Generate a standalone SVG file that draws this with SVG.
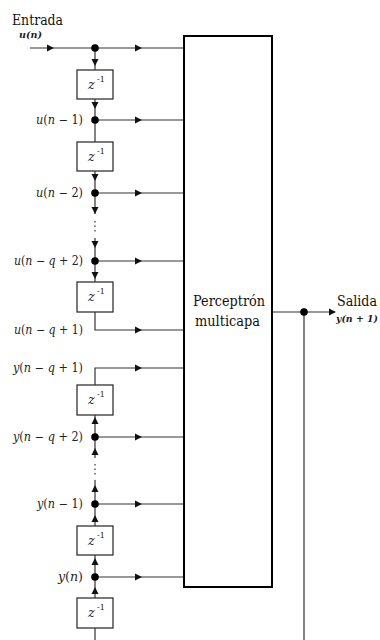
<svg xmlns="http://www.w3.org/2000/svg" xmlns:xlink="http://www.w3.org/1999/xlink" width="380" height="640" viewBox="0 0 380 640">
<style>
.w{stroke:#333;stroke-width:1.2;fill:none}
.dt{stroke:#333;stroke-width:1.2;fill:none;stroke-dasharray:1.5 3}
.bx{fill:#fff;stroke:#333;stroke-width:1.3}
.mb{fill:#fff;stroke:#000;stroke-width:2}
.t{fill:#111;font-size:14px}
.lab{font-size:12px;fill:#222;text-anchor:end}
.i{font-style:italic}
.z{font-size:13px;font-style:italic;fill:#222}
.sup{font-size:8px;fill:#222}
.bi{font-size:10px;font-style:italic;font-weight:bold;fill:#222}
.ah{fill:#111}
.dot{fill:#000}
</style>
<defs>
<path id="ah" d="M0,0 L-7,-3.5 L-7,3.5 Z"/>
</defs>
<g id="connectors">
<path class="w" d="M95,48 V70 M95,99 V142 M95,171 V214 M95,238 V282 M95,312 V330 H184"/>
<path class="dt" d="M95,221 V233"/>
<path class="w" d="M184,368 H95 V385 M95,415 V458 M95,480 V526 M95,555 V598 M95,628 V640"/>
<path class="dt" d="M95,464 V476"/>
<path class="w" d="M30,48 H184 M95,120 H184 M95,193 H184 M95,261 H184 M95,437 H184 M95,504 H184 M95,577 H184"/>
<path class="w" d="M272,312 H335 M304,312 V640"/>
<g class="ah">
<use xlink:href="#ah" transform="translate(54,48)"/>
<use xlink:href="#ah" transform="translate(142,48)"/>
<use xlink:href="#ah" transform="translate(142,120)"/>
<use xlink:href="#ah" transform="translate(142,193)"/>
<use xlink:href="#ah" transform="translate(142,261)"/>
<use xlink:href="#ah" transform="translate(142,330)"/>
<use xlink:href="#ah" transform="translate(142,368)"/>
<use xlink:href="#ah" transform="translate(142,437)"/>
<use xlink:href="#ah" transform="translate(142,504)"/>
<use xlink:href="#ah" transform="translate(142,577)"/>
<use xlink:href="#ah" transform="translate(336,312)"/>
<use xlink:href="#ah" transform="translate(95,66) rotate(90)"/>
<use xlink:href="#ah" transform="translate(95,109) rotate(90)"/>
<use xlink:href="#ah" transform="translate(95,181) rotate(90)"/>
<use xlink:href="#ah" transform="translate(95,214) rotate(90)"/>
<use xlink:href="#ah" transform="translate(95,248) rotate(90)"/>
<use xlink:href="#ah" transform="translate(95,279) rotate(90)"/>
<use xlink:href="#ah" transform="translate(95,417) rotate(-90)"/>
<use xlink:href="#ah" transform="translate(95,448) rotate(-90)"/>
<use xlink:href="#ah" transform="translate(95,485) rotate(-90)"/>
<use xlink:href="#ah" transform="translate(95,515) rotate(-90)"/>
<use xlink:href="#ah" transform="translate(95,558) rotate(-90)"/>
<use xlink:href="#ah" transform="translate(95,587) rotate(-90)"/>
</g>
<g class="dot">
<circle cx="95" cy="48" r="3.8"/>
<circle cx="95" cy="120" r="3.8"/>
<circle cx="95" cy="193" r="3.8"/>
<circle cx="95" cy="261" r="3.8"/>
<circle cx="95" cy="437" r="3.8"/>
<circle cx="95" cy="504" r="3.8"/>
<circle cx="95" cy="577" r="3.8"/>
<circle cx="304" cy="312" r="3.8"/>
</g>
</g>
<g font-family="DejaVu Serif, serif">
<g id="mlp">
<rect class="mb" x="184" y="36" width="88" height="551"/>
<text class="t" x="193" y="306" textLength="72" lengthAdjust="spacingAndGlyphs">Perceptrón</text>
<text class="t" x="195" y="326" textLength="65" lengthAdjust="spacingAndGlyphs">multicapa</text>
</g>
<g id="z1"><rect class="bx" x="77" y="70" width="36" height="29"/><text class="z" x="88" y="89">z</text><text class="sup" x="97" y="82">-1</text></g>
<g id="z2"><rect class="bx" x="77" y="142" width="36" height="29"/><text class="z" x="88" y="161">z</text><text class="sup" x="97" y="154">-1</text></g>
<g id="z3"><rect class="bx" x="77" y="282" width="36" height="30"/><text class="z" x="88" y="301">z</text><text class="sup" x="97" y="294">-1</text></g>
<g id="z4"><rect class="bx" x="77" y="385" width="36" height="30"/><text class="z" x="88" y="404">z</text><text class="sup" x="97" y="397">-1</text></g>
<g id="z5"><rect class="bx" x="77" y="526" width="36" height="29"/><text class="z" x="88" y="545">z</text><text class="sup" x="97" y="538">-1</text></g>
<g id="z6"><rect class="bx" x="77" y="598" width="36" height="30"/><text class="z" x="88" y="617">z</text><text class="sup" x="97" y="610">-1</text></g>
<g id="labels">
<text class="t" x="12" y="25" textLength="51" lengthAdjust="spacingAndGlyphs">Entrada</text>
<text class="bi" x="19" y="38" textLength="23" lengthAdjust="spacingAndGlyphs">u(n)</text>
<text class="t" x="337" y="306" textLength="40" lengthAdjust="spacingAndGlyphs">Salida</text>
<text class="bi" x="336" y="322" textLength="42" lengthAdjust="spacingAndGlyphs">y(n + 1)</text>
<text class="lab" x="83" y="124" textLength="47" lengthAdjust="spacingAndGlyphs"><tspan class="i">u</tspan>(<tspan class="i">n</tspan> − 1)</text>
<text class="lab" x="83" y="197" textLength="47" lengthAdjust="spacingAndGlyphs"><tspan class="i">u</tspan>(<tspan class="i">n</tspan> − 2)</text>
<text class="lab" x="83" y="265" textLength="69" lengthAdjust="spacingAndGlyphs"><tspan class="i">u</tspan>(<tspan class="i">n</tspan> − <tspan class="i">q</tspan> + 2)</text>
<text class="lab" x="83" y="334" textLength="69" lengthAdjust="spacingAndGlyphs"><tspan class="i">u</tspan>(<tspan class="i">n</tspan> − <tspan class="i">q</tspan> + 1)</text>
<text class="lab" x="83" y="372" textLength="70" lengthAdjust="spacingAndGlyphs"><tspan class="i">y</tspan>(<tspan class="i">n</tspan> − <tspan class="i">q</tspan> + 1)</text>
<text class="lab" x="83" y="441" textLength="70" lengthAdjust="spacingAndGlyphs"><tspan class="i">y</tspan>(<tspan class="i">n</tspan> − <tspan class="i">q</tspan> + 2)</text>
<text class="lab" x="83" y="508" textLength="46" lengthAdjust="spacingAndGlyphs"><tspan class="i">y</tspan>(<tspan class="i">n</tspan> − 1)</text>
<text class="lab" x="83" y="581" textLength="25" lengthAdjust="spacingAndGlyphs"><tspan class="i">y</tspan>(<tspan class="i">n</tspan>)</text>
</g>
</g>
</svg>
